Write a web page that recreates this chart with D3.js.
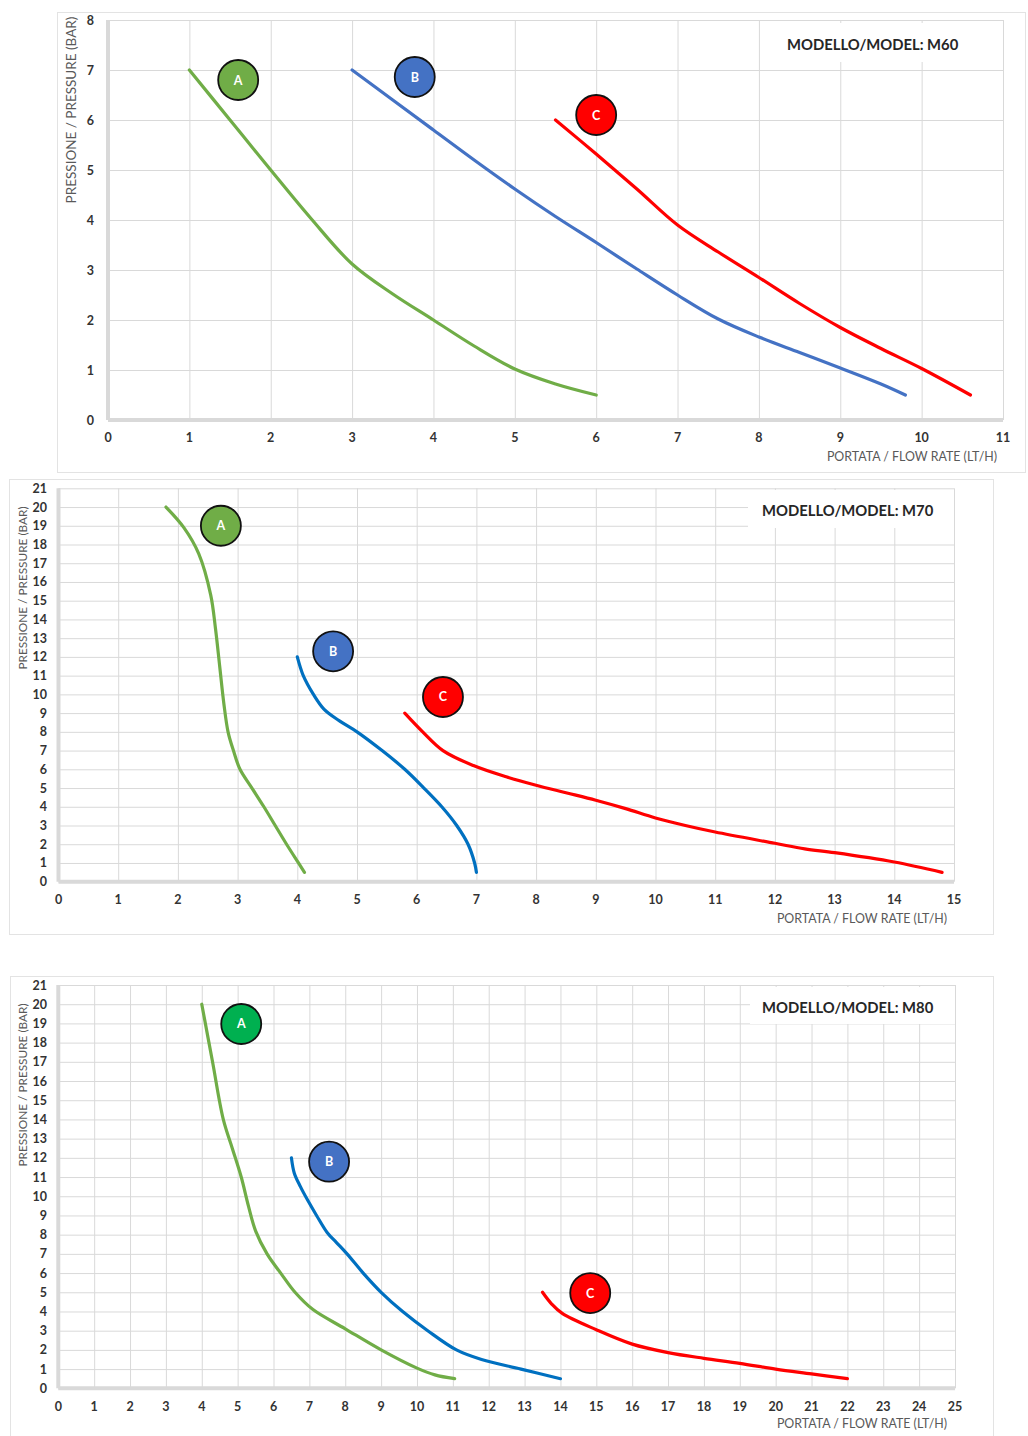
<!DOCTYPE html>
<html>
<head>
<meta charset="utf-8">
<script src="https://cdn.jsdelivr.net/npm/d3@7"></script>
<style>
  body { margin: 0; background: #fff; }
  svg { display: block; font-family: Lato, "Open Sans", sans-serif; }
</style>
</head>
<body>
<div id="chart-area"></div>
<script>
// ---- data (flow LT/H, pressure BAR) ----
const m60XTicks = d3.range(0, 12);
const m60YTicks = d3.range(0, 9);
const m70XTicks = d3.range(0, 16);
const m70YTicks = d3.range(0, 22);
const m80XTicks = d3.range(0, 26);
const m80YTicks = d3.range(0, 22);

const m60A = [[1, 7], [1.5, 6], [2, 5], [2.5, 4.02], [3, 3.12], [3.5, 2.52], [4, 2], [4.5, 1.48], [5, 1.02], [5.5, 0.72], [6, 0.5]];
const m60B = [[3, 7], [3.5, 6.4], [4, 5.8], [4.5, 5.2], [5, 4.62], [5.5, 4.07], [6, 3.55], [6.5, 3.02], [7, 2.5], [7.5, 2.02], [8, 1.66], [8.5, 1.35], [9, 1.04], [9.5, 0.72], [9.8, 0.5]];
const m60C = [[5.5, 6], [6, 5.32], [6.5, 4.62], [7, 3.9], [7.5, 3.36], [8, 2.85], [8.5, 2.33], [9, 1.85], [9.5, 1.43], [10, 1.03], [10.6, 0.5]];

const m70A = [[1.8, 20], [2.1, 18.9], [2.35, 17.5], [2.55, 15.3], [2.63, 13.5], [2.7, 11.5], [2.77, 9.5], [2.84, 8], [2.93, 7], [3.04, 6], [3.24, 5], [3.44, 4], [3.63, 3], [3.82, 2], [4.02, 1], [4.12, 0.5]];
const m70B = [[4, 12], [4.1, 11], [4.27, 10], [4.45, 9.2], [4.7, 8.6], [5, 8], [5.42, 7], [5.8, 6], [6.12, 5], [6.42, 4], [6.67, 3], [6.86, 2], [6.97, 1], [7, 0.5]];
const m70C = [[5.8, 9], [6.1, 8], [6.44, 7], [6.95, 6.2], [7.5, 5.6], [8, 5.15], [8.5, 4.75], [9, 4.35], [9.5, 3.9], [10, 3.4], [10.5, 3], [11, 2.65], [12, 2.05], [12.5, 1.75], [13, 1.55], [14, 1.05], [14.8, 0.5]];

const m80A = [[4, 20], [4.3, 17], [4.6, 14], [4.85, 12.5], [5.1, 11], [5.3, 9.5], [5.5, 8.2], [5.82, 7], [6.2, 6], [6.6, 5], [7.1, 4.1], [8, 3.1], [9, 2], [10, 1.05], [10.5, 0.7], [11.05, 0.5]];
const m80B = [[6.5, 12], [6.58, 11.2], [6.75, 10.5], [6.95, 9.8], [7.2, 9], [7.5, 8.1], [7.75, 7.6], [8.05, 7], [8.5, 6], [9, 5], [9.6, 4], [10.3, 3], [11.1, 2], [11.8, 1.5], [12.9, 1], [14, 0.5]];
const m80C = [[13.5, 5], [13.75, 4.4], [14.05, 3.9], [15, 3.05], [16, 2.3], [17, 1.86], [18, 1.56], [19, 1.3], [20, 1], [21, 0.75], [22, 0.5]];

// curve labels: [name, flow, pressure]
const m60Badges = [['A', 1.6, 6.8], ['B', 3.77, 6.86], ['C', 6.0, 6.1]];
const m70Badges = [['A', 2.72, 19.0], ['B', 4.6, 12.3], ['C', 6.44, 9.86]];
const m80Badges = [['A', 5.1, 18.97], ['B', 7.55, 11.8], ['C', 14.83, 4.96]];

const titles = ['MODELLO/MODEL: M60', 'MODELLO/MODEL: M70', 'MODELLO/MODEL: M80'];
const xTitle = 'PORTATA / FLOW RATE (LT/H)';
const yTitle = 'PRESSIONE / PRESSURE (BAR)';

// ---- layout ----
const panels = [
  {
    title: titles[0], xTicks: m60XTicks, yTicks: m60YTicks,
    curves: { A: m60A, B: m60B, C: m60C }, badges: m60Badges,
    lineColors: { A: '#70ad47', B: '#4472c4', C: '#ff0000' },
    badgeColors: { A: '#70ad47', B: '#4472c4', C: '#ff0000' },
    frame: { x: 57, y: 12, w: 968, h: 460 },
    xr: [108, 1003], yr: [420, 20],
    yLabelX: 94, xLabelY: 442, yTitleX: 71, yTitleY: 110, yTitleSize: 13.5,
    xTitleX: 997, xTitleY: 461, titleX: 787, titleY: 50,
    box: { x: 763, y: 23, w: 238, h: 39 }
  },
  {
    title: titles[1], xTicks: m70XTicks, yTicks: m70YTicks,
    curves: { A: m70A, B: m70B, C: m70C }, badges: m70Badges,
    lineColors: { A: '#70ad47', B: '#0070c0', C: '#ff0000' },
    badgeColors: { A: '#70ad47', B: '#4472c4', C: '#ff0000' },
    frame: { x: 9, y: 479, w: 984, h: 455 },
    xr: [58.5, 954], yr: [881.7, 488.3],
    yLabelX: 47, xLabelY: 904, yTitleX: 23, yTitleY: 588, yTitleSize: 11.8,
    xTitleX: 947, xTitleY: 923, titleX: 762, titleY: 516,
    box: { x: 748, y: 490, w: 206, h: 38 }
  },
  {
    title: titles[2], xTicks: m80XTicks, yTicks: m80YTicks,
    curves: { A: m80A, B: m80B, C: m80C }, badges: m80Badges,
    lineColors: { A: '#70ad47', B: '#0070c0', C: '#ff0000' },
    badgeColors: { A: '#00b050', B: '#4472c4', C: '#ff0000' },
    frame: { x: 10, y: 976, w: 983, h: 470 },
    xr: [58.3, 955], yr: [1388.3, 985],
    yLabelX: 47, xLabelY: 1411, yTitleX: 23, yTitleY: 1085, yTitleSize: 11.8,
    xTitleX: 947, xTitleY: 1428, titleX: 762, titleY: 1013,
    box: { x: 750, y: 987, w: 205, h: 37 }
  }
];

const svg = d3.select('#chart-area').append('svg')
  .attr('width', 1028)
  .attr('height', 1436);

const drawPanel = (p) => {
  const g = svg.append('g');
  const x = d3.scaleLinear().domain(d3.extent(p.xTicks)).range(p.xr);
  const y = d3.scaleLinear().domain(d3.extent(p.yTicks)).range(p.yr);

  g.append('rect')
    .attr('x', p.frame.x + 0.5).attr('y', p.frame.y + 0.5)
    .attr('width', p.frame.w).attr('height', p.frame.h)
    .attr('fill', '#fff').attr('stroke', '#e3e3e3');

  // gridlines
  g.append('g')
    .attr('transform', `translate(0,${p.yr[0]})`)
    .call(d3.axisBottom(x).tickValues(p.xTicks).tickSize(-(p.yr[0] - p.yr[1])).tickFormat(''))
    .call(a => a.select('.domain').remove())
    .call(a => a.selectAll('line').attr('stroke', '#d9d9d9'));
  g.append('g')
    .attr('transform', `translate(${p.xr[0]},0)`)
    .call(d3.axisLeft(y).tickValues(p.yTicks).tickSize(-(p.xr[1] - p.xr[0])).tickFormat(''))
    .call(a => a.select('.domain').remove())
    .call(a => a.selectAll('line').attr('stroke', '#d9d9d9'));

  // title box hides the grid under it
  g.append('rect')
    .attr('x', p.box.x).attr('y', p.box.y)
    .attr('width', p.box.w).attr('height', p.box.h)
    .attr('fill', '#fff');
  g.append('text')
    .attr('x', p.titleX).attr('y', p.titleY)
    .attr('font-size', 14.8).attr('font-weight', 'bold').attr('fill', '#262626')
    .text(p.title);

  // thick grey axis lines
  g.append('line')
    .attr('x1', p.xr[0]).attr('x2', p.xr[0])
    .attr('y1', p.yr[1]).attr('y2', p.yr[0])
    .attr('stroke', '#d9d9d9').attr('stroke-width', 4);
  g.append('line')
    .attr('x1', p.xr[0]).attr('x2', p.xr[1])
    .attr('y1', p.yr[0]).attr('y2', p.yr[0])
    .attr('stroke', '#d9d9d9').attr('stroke-width', 4);

  // tick labels
  g.selectAll('.xl').data(p.xTicks).join('text')
    .attr('x', d => x(d)).attr('y', p.xLabelY)
    .attr('text-anchor', 'middle')
    .attr('font-size', 12.5).attr('font-weight', 'bold').attr('fill', '#333')
    .text(d => d);
  g.selectAll('.yl').data(p.yTicks).join('text')
    .attr('x', p.yLabelX).attr('y', d => y(d) + 4.5)
    .attr('text-anchor', 'end')
    .attr('font-size', 12.5).attr('font-weight', 'bold').attr('fill', '#333')
    .text(d => d);

  g.append('text')
    .attr('x', p.xTitleX).attr('y', p.xTitleY)
    .attr('text-anchor', 'end')
    .attr('font-size', 12.4).attr('fill', '#595959')
    .text(xTitle);
  g.append('text')
    .attr('transform', `translate(${p.yTitleX},${p.yTitleY}) rotate(-90)`)
    .attr('text-anchor', 'middle').attr('dy', '0.35em')
    .attr('font-size', p.yTitleSize).attr('fill', '#595959')
    .text(yTitle);

  // curves
  const line = d3.line()
    .x(d => x(d[0]))
    .y(d => y(d[1]))
    .curve(d3.curveCatmullRom.alpha(0.5));
  Object.entries(p.curves).forEach(([name, pts]) => {
    g.append('path')
      .datum(pts)
      .attr('d', line)
      .attr('fill', 'none')
      .attr('stroke', p.lineColors[name])
      .attr('stroke-width', 3.2)
      .attr('stroke-linecap', 'round');
  });

  // curve badges
  const badge = g.selectAll('.badge').data(p.badges).join('g')
    .attr('transform', d => `translate(${x(d[1])},${y(d[2])})`);
  badge.append('circle')
    .attr('r', 20)
    .attr('fill', d => p.badgeColors[d[0]])
    .attr('stroke', '#111').attr('stroke-width', 1.8);
  badge.append('text')
    .attr('text-anchor', 'middle').attr('dy', '0.36em')
    .attr('font-size', 12.5).attr('font-weight', 'bold').attr('fill', '#fff')
    .text(d => d[0]);
};

panels.forEach(drawPanel);
</script>
</body>
</html>
